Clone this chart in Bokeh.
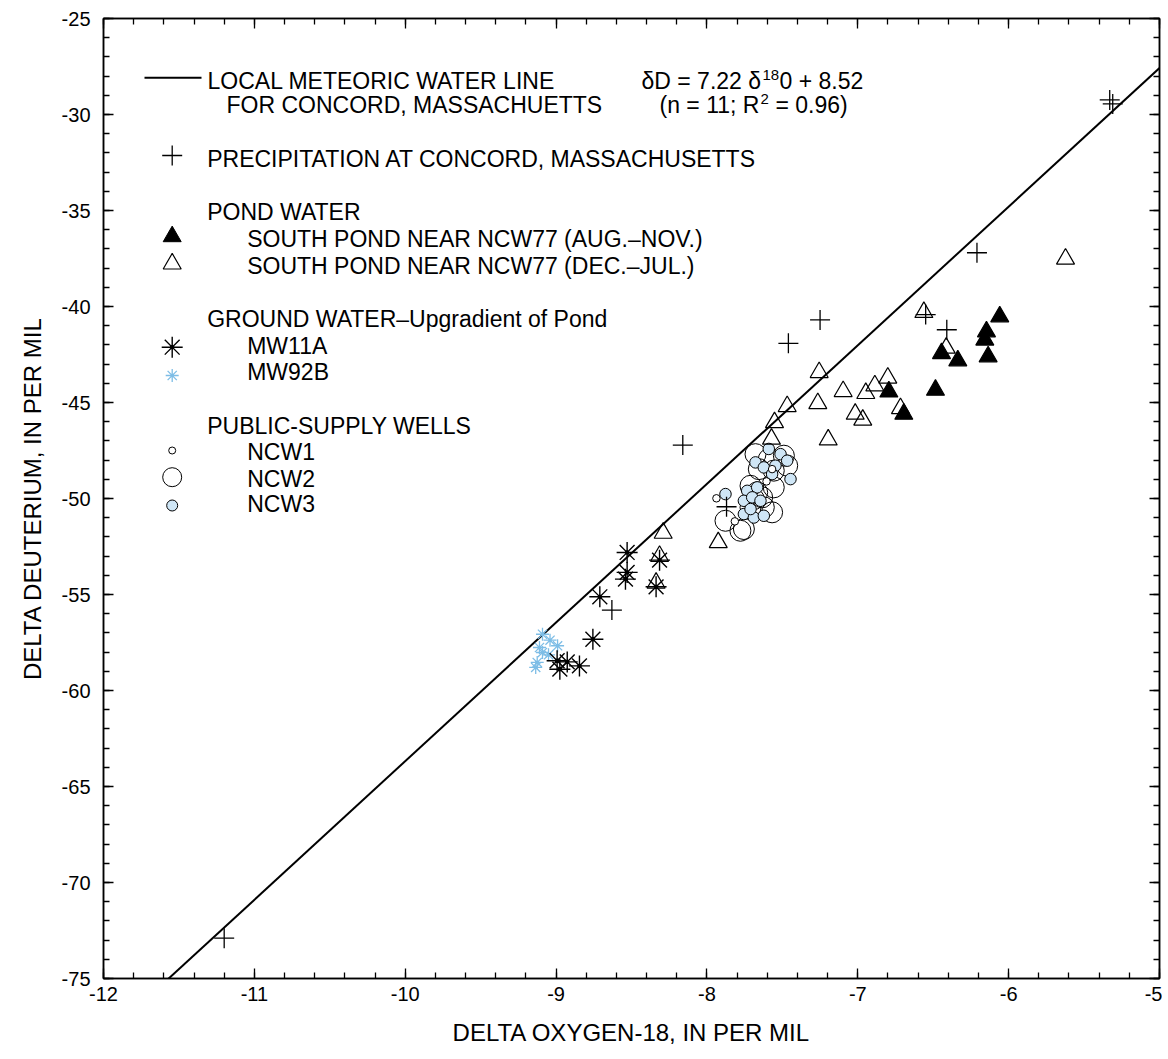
import math
from bokeh.plotting import figure
from bokeh.models import (Range1d, LinearAxis, SingleIntervalTicker, Label, Title,
                          CustomJSTickFormatter)
from bokeh.embed import file_html
from bokeh.resources import INLINE

# ---------------- data ----------------
lmwl_slope = 7.22
lmwl_intercept = 8.52
lmwl_x = [-12.0, -5.0]

precip_x = [-11.20, -8.63, -8.16, -7.87, -7.46, -7.25, -6.55, -6.41, -6.21, -5.33, -5.31]
precip_y = [-72.90, -55.81, -47.22, -50.43, -41.92, -40.70, -40.42, -41.21, -37.20, -29.24, -29.45]

pond_aug_x = [-6.059, -6.147, -6.158, -6.136, -6.445, -6.337, -6.794, -6.485, -6.695]
pond_aug_y = [-40.53, -41.31, -41.74, -42.61, -42.44, -42.82, -44.44, -44.35, -45.60]

pond_dec_x = [-5.623, -6.562, -6.414, -7.256, -6.801, -6.887, -7.097, -6.947, -7.265, -6.717,
              -7.017, -6.967, -7.196, -7.468, -7.552, -7.572, -8.290, -7.925, -8.314, -8.337]
pond_dec_y = [-37.52, -40.30, -42.16, -43.43, -43.72, -44.12, -44.42, -44.52, -45.05, -45.31,
              -45.60, -45.91, -46.94, -45.20, -46.04, -46.90, -51.80, -52.29, -53.00, -54.40]

mw11a_x = [-8.529, -8.529, -8.540, -8.314, -8.337, -8.710, -8.756, -8.993, -8.926, -8.845, -8.975]
mw11a_y = [-52.81, -53.85, -54.20, -53.21, -54.60, -55.12, -57.33, -58.45, -58.51, -58.72, -58.89]

mw92b_x = [-9.09, -9.04, -8.99, -9.11, -9.09, -9.05, -9.125, -9.135]
mw92b_y = [-57.07, -57.38, -57.67, -57.76, -58.02, -58.14, -58.54, -58.80]

ncw1_x = [-7.937, -7.605, -7.815, -7.568]
ncw1_y = [-49.99, -49.11, -51.19, -48.47]

ncw2_x = [-7.678, -7.490, -7.590, -7.468, -7.656, -7.557, -7.711, -7.667, -7.634, -7.557,
          -7.568, -7.689, -7.711, -7.778, -7.877, -7.755, -7.623]
ncw2_y = [-47.69, -47.77, -47.95, -48.29, -48.47, -48.55, -49.34, -49.68, -49.94, -49.42,
          -50.72, -50.03, -50.46, -51.68, -51.16, -51.59, -50.46]

ncw3_x = [-7.590, -7.512, -7.468, -7.678, -7.623, -7.546, -7.568, -7.446, -7.877, -7.733,
          -7.667, -7.755, -7.700, -7.645, -7.755, -7.689, -7.623, -7.711]
ncw3_y = [-47.42, -47.69, -48.03, -48.12, -48.38, -48.29, -48.73, -48.99, -49.77, -49.60,
          -49.42, -50.12, -49.94, -50.12, -50.81, -50.99, -50.90, -50.55]

x_title = "DELTA OXYGEN-18, IN PER MIL"
y_title = "DELTA DEUTERIUM, IN PER MIL"

# ---------------- styles ----------------
FONT = "Liberation Sans"
LEG_FS = "23px"
BLUE_STAR = "#7dbde6"
BLUE_FILL = "#cfe6f6"

W, H = 1162, 1059
FL, FR, FT = 103, 3, 18
FW, FH = 1056, 960
FB = H - FT - FH

p = figure(width=W, height=H, x_range=Range1d(-12, -5), y_range=Range1d(-75, -25),
           output_backend="svg", toolbar_location=None,
           min_border_left=FL, min_border_right=FR, min_border_top=FT, min_border_bottom=FB)
p.extra_x_ranges = {"px": Range1d(0, FW)}
p.extra_y_ranges = {"py": Range1d(FH, 0)}
p.grid.visible = False
p.outline_line_color = "black"
p.outline_line_width = 1.5
p.background_fill_color = "white"
p.border_fill_color = "white"

int_fmt = CustomJSTickFormatter(code="return tick.toFixed(0);")
blank_fmt = CustomJSTickFormatter(code="return '';")

def style_axis(ax, show_labels, standoff):
    ax.axis_line_color = "black"
    ax.axis_line_width = 1.5
    ax.major_tick_in = 10
    ax.major_tick_out = 0
    ax.minor_tick_in = 6
    ax.minor_tick_out = 0
    ax.major_tick_line_width = 1.3
    ax.minor_tick_line_width = 1.3
    ax.major_tick_line_color = "black"
    ax.minor_tick_line_color = "black"
    ax.major_label_text_font = FONT
    ax.major_label_text_color = "black"
    if show_labels:
        ax.formatter = int_fmt
        ax.major_label_text_font_size = "20px"
        ax.major_label_standoff = standoff
    else:
        ax.formatter = blank_fmt
        ax.major_label_text_font_size = "1px"
        ax.major_label_standoff = 0

p.xaxis.ticker = SingleIntervalTicker(interval=1, num_minor_ticks=5)
p.yaxis.ticker = SingleIntervalTicker(interval=5, num_minor_ticks=5)
style_axis(p.xaxis[0], True, 8)
style_axis(p.yaxis[0], True, 13)

ax_r = LinearAxis(ticker=SingleIntervalTicker(interval=5, num_minor_ticks=5))
style_axis(ax_r, False, 0)
p.add_layout(ax_r, "right")
ax_t = LinearAxis(ticker=SingleIntervalTicker(interval=1, num_minor_ticks=5))
style_axis(ax_t, False, 0)
p.add_layout(ax_t, "above")

# axis titles
p.add_layout(Title(text=x_title, align="center", offset=9, standoff=26,
                   text_font=FONT, text_font_size="24px", text_font_style="normal",
                   text_color="black"), "below")
p.add_layout(Title(text=y_title, align="center", offset=43, standoff=26,
                   text_font=FONT, text_font_size="24px", text_font_style="normal",
                   text_color="black"), "left")

# ---------------- LMWL ----------------
lmwl_y = [lmwl_slope * v + lmwl_intercept for v in lmwl_x]
p.line(lmwl_x, lmwl_y, line_color="black", line_width=2)

# ---------------- data points ----------------
p.scatter(ncw2_x, ncw2_y, marker="circle", size=21, fill_color=None, line_color="black", line_width=1)
p.scatter(ncw3_x, ncw3_y, marker="circle", size=11.5, fill_color=BLUE_FILL, line_color="black", line_width=1)
p.scatter(ncw1_x, ncw1_y, marker="circle", size=7.5, fill_color="white", line_color="black", line_width=1)
p.scatter(pond_dec_x, pond_dec_y, marker="triangle", size=18, fill_color=None, line_color="black", line_width=1.2)
p.scatter(pond_aug_x, pond_aug_y, marker="triangle", size=18, fill_color="black", line_color="black", line_width=1.2)
p.scatter(mw92b_x, mw92b_y, marker="asterisk", size=13, line_color=BLUE_STAR, line_width=1.3)
p.scatter(mw11a_x, mw11a_y, marker="asterisk", size=21, line_color="black", line_width=1.4)
p.scatter(mw11a_x, mw11a_y, marker="circle", size=3.5, fill_color="black", line_color="black")
p.scatter(precip_x, precip_y, marker="cross", size=20, line_color="black", line_width=1.3)

# ---------------- legend (frame pixel coordinates) ----------------
R = dict(x_range_name="px", y_range_name="py")
SX = 68.7
p.line([41, 98], [59.3, 59.3], line_color="black", line_width=2, **R)
p.scatter([SX], [137], marker="cross", size=20, line_color="black", line_width=1.3, **R)
p.scatter([SX], [218], marker="triangle", size=18, fill_color="black", line_color="black", **R)
p.scatter([SX], [245.3], marker="triangle", size=18, fill_color=None, line_color="black", line_width=1.2, **R)
p.scatter([SX], [328.7], marker="asterisk", size=21, line_color="black", line_width=1.4, **R)
p.scatter([SX], [328.7], marker="circle", size=3.5, fill_color="black", line_color="black", **R)
p.scatter([SX], [357], marker="asterisk", size=13, line_color=BLUE_STAR, line_width=1.3, **R)
p.scatter([SX], [432], marker="circle", size=7, fill_color="white", line_color="black", line_width=1, **R)
p.scatter([SX], [458.7], marker="circle", size=19, fill_color=None, line_color="black", line_width=1, **R)
p.scatter([SX], [487], marker="circle", size=11, fill_color=BLUE_FILL, line_color="black", line_width=1, **R)

def txt(x, y, s, size=LEG_FS, align="left"):
    p.add_layout(Label(x=x, y=y, text=s, text_font=FONT, text_font_size=size,
                       text_color="black", text_align=align, text_baseline="middle", **R))

txt(104, 62, "LOCAL METEORIC WATER LINE")
txt(123, 86, "FOR CONCORD, MASSACHUETTS")
# equation with superscripts
eq_x = 538
txt(eq_x, 62, "\u03b4D = 7.22 \u03b4")
txt(eq_x + 121, 56, "18", size="15px")
txt(eq_x + 138, 62, "0 + 8.52")
txt(eq_x + 18, 86, "(n = 11; R")
txt(eq_x + 18 + 101, 80, "2", size="15px")
txt(eq_x + 18 + 116, 86, "= 0.96)")

txt(103.7, 140.3, "PRECIPITATION AT CONCORD, MASSACHUSETTS")
txt(103.7, 193.7, "POND WATER")
txt(143.7, 220.3, "SOUTH POND NEAR NCW77 (AUG.\u2013NOV.)")
txt(143.7, 247, "SOUTH POND NEAR NCW77 (DEC.\u2013JUL.)")
txt(103.7, 300.3, "GROUND WATER\u2013Upgradient of Pond")
txt(143.7, 327, "MW11A")
txt(143.7, 353.7, "MW92B")
txt(103.7, 407, "PUBLIC-SUPPLY WELLS")
txt(143.7, 433.7, "NCW1")
txt(143.7, 460.3, "NCW2")
txt(143.7, 485.3, "NCW3")

open("out.html", "w").write(file_html(p, INLINE))
